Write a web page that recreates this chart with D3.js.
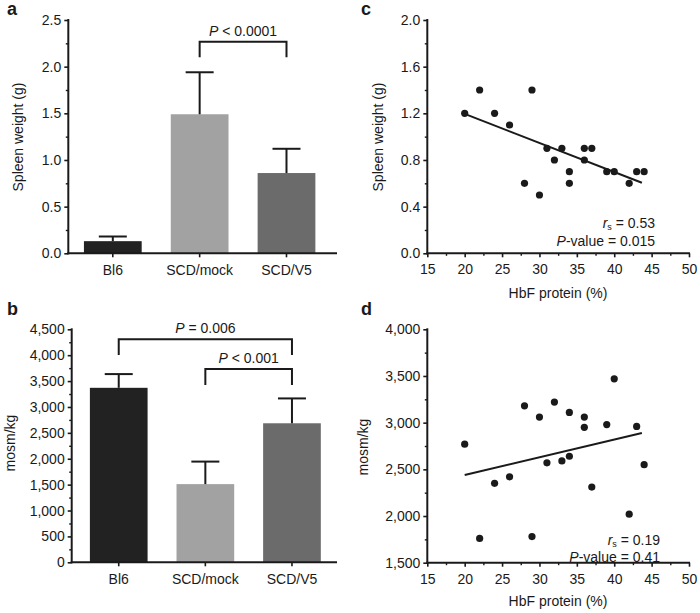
<!DOCTYPE html>
<html>
<head>
<meta charset="utf-8">
<script src="https://cdn.jsdelivr.net/npm/d3@7/dist/d3.min.js"></script>
<style>
  html, body { margin: 0; padding: 0; background: #fff; }
  svg { display: block; }
  text { font-family: "Liberation Sans", Arial, Helvetica, sans-serif; fill: #1a1a1a; }
</style>
</head>
<body>
<svg id="chart" width="700" height="613"></svg>
<script>
// ---------------- DATA ----------------
const barCategories = ["Bl6", "SCD/mock", "SCD/V5"];
const barColors = ["#222222", "#a2a2a2", "#6b6b6b"];

const spleenMeans = [0.13, 1.49, 0.86];
const spleenSD = [0.05, 0.45, 0.26];
const spleenTicks = [0, 0.5, 1.0, 1.5, 2.0, 2.5];

const osmMeans = [3370, 1510, 2685];
const osmSD = [265, 435, 480];
const osmTicks = [0, 500, 1000, 1500, 2000, 2500, 3000, 3500, 4000, 4500];

const hbfC = [20, 22, 24, 26, 28, 29, 30, 31, 32, 33, 34, 34, 36, 36, 37, 39, 40, 42, 43, 44];
const spleenC = [1.2, 1.4, 1.2, 1.1, 0.6, 1.4, 0.5, 0.9, 0.8, 0.9, 0.7, 0.6, 0.9, 0.8, 0.9, 0.7, 0.7, 0.6, 0.7, 0.7];
const fitC = [[20, 1.195], [43.7, 0.605]];

const hbfD = [20, 22, 24, 26, 28, 29, 30, 31, 32, 33, 34, 34, 36, 36, 37, 39, 40, 42, 43, 44];
const osmD = [2770, 1760, 2350, 2420, 3180, 1780, 3060, 2570, 3220, 2590, 3110, 2640, 3060, 2950, 2310, 2980, 3470, 2020, 2960, 2550];
const fitD = [[20, 2440], [43.7, 2890]];

const hbfTicks = [15, 20, 25, 30, 35, 40, 45, 50];
const spleenScatterTicks = [0.0, 0.4, 0.8, 1.2, 1.6, 2.0];
const osmScatterTicks = [1500, 2000, 2500, 3000, 3500, 4000];

// ---------------- HELPERS ----------------
const svg = d3.select("#chart");
const INK = "#1a1a1a";
const FONT = 14;

function styleAxis(g, w) {
  g.selectAll("path.domain").remove();
  g.selectAll(".tick line").attr("stroke", INK).attr("stroke-width", w || 1.6);
  g.selectAll(".tick text").attr("font-size", FONT).attr("fill", INK)
    .style("font-family", '"Liberation Sans", Arial, sans-serif');
}

function yAxis(y, x0, majors, minors, fmt) {
  const g = svg.append("g").attr("transform", `translate(${x0},0)`);
  g.call(d3.axisLeft(y).tickValues(majors).tickSize(4).tickPadding(3).tickFormat(fmt));
  styleAxis(g);
  const gm = svg.append("g").attr("transform", `translate(${x0},0)`);
  gm.call(d3.axisLeft(y).tickValues(minors).tickSize(2.5).tickFormat(""));
  styleAxis(gm, 1.4);
  svg.append("line").attr("x1", x0).attr("x2", x0)
    .attr("y1", y.range()[0] + 1).attr("y2", y.range()[1] - 1)
    .attr("stroke", INK).attr("stroke-width", 2);
}

function label(text, x, y, opts) {
  opts = opts || {};
  const t = svg.append("text").attr("x", x).attr("y", y)
    .attr("font-size", opts.size || FONT)
    .attr("text-anchor", opts.anchor || "middle")
    .attr("font-weight", opts.weight || "normal");
  if (opts.rotate) t.attr("transform", `rotate(-90,${x},${y})`);
  t.text(text);
  return t;
}

function barPanel(means, sds, ticks, minors, fmt, geom) {
  const y = d3.scaleLinear().domain([ticks[0], ticks[ticks.length - 1]]).range([geom.y0, geom.y1]);
  const x = d3.scaleBand().domain(barCategories).range([geom.x0, geom.xr])
    .paddingInner(geom.pi).paddingOuter(geom.po);
  // bars
  svg.append("g").selectAll("rect").data(barCategories).join("rect")
    .attr("x", d => x(d)).attr("width", x.bandwidth())
    .attr("y", (d, i) => y(means[i])).attr("height", (d, i) => y(ticks[0]) - y(means[i]))
    .attr("fill", (d, i) => barColors[i]);
  // error bars
  const eb = svg.append("g");
  barCategories.forEach((c, i) => {
    const cx = x(c) + x.bandwidth() / 2;
    eb.append("line").attr("x1", cx).attr("x2", cx)
      .attr("y1", y(means[i])).attr("y2", y(means[i] + sds[i]))
      .attr("stroke", INK).attr("stroke-width", 2);
    eb.append("line").attr("x1", cx - 14).attr("x2", cx + 14)
      .attr("y1", y(means[i] + sds[i])).attr("y2", y(means[i] + sds[i]))
      .attr("stroke", INK).attr("stroke-width", 2);
  });
  yAxis(y, geom.x0, ticks, minors, fmt);
  // x axis
  const gx = svg.append("g").attr("transform", `translate(0,${geom.y0})`);
  gx.call(d3.axisBottom(x).tickSize(4).tickPadding(8));
  styleAxis(gx);
  gx.selectAll(".tick text").attr("dy", "0.71em");
  svg.append("line").attr("x1", geom.x0 - 1).attr("x2", geom.xEnd)
    .attr("y1", geom.y0).attr("y2", geom.y0).attr("stroke", INK).attr("stroke-width", 2);
  return { x, y };
}

function bracket(xa, xb, yTop, yLeg) {
  svg.append("path")
    .attr("d", `M${xa},${yLeg}V${yTop}H${xb}V${yLeg}`)
    .attr("fill", "none").attr("stroke", INK).attr("stroke-width", 2);
}

function pText(x, y, rest) {
  const t = svg.append("text").attr("x", x).attr("y", y).attr("font-size", FONT).attr("text-anchor", "middle");
  t.append("tspan").attr("font-style", "italic").text("P");
  t.append("tspan").text(rest);
}

function statText(xRight, yR, yP, rs, pv) {
  const t1 = svg.append("text").attr("x", xRight).attr("y", yR).attr("font-size", FONT).attr("text-anchor", "end");
  t1.append("tspan").attr("font-style", "italic").text("r");
  t1.append("tspan").attr("font-size", 9).attr("dy", 2).text("s");
  t1.append("tspan").attr("dy", -2).text(" = " + rs);
  const t2 = svg.append("text").attr("x", xRight).attr("y", yP).attr("font-size", FONT).attr("text-anchor", "end");
  t2.append("tspan").attr("font-style", "italic").text("P");
  t2.append("tspan").text("-value = " + pv);
}

function scatterPanel(xs, ys, fit, yTicks, yMinors, fmt, geom) {
  const x = d3.scaleLinear().domain([15, 50]).range([geom.x0, geom.x1]);
  const y = d3.scaleLinear().domain([yTicks[0], yTicks[yTicks.length - 1]]).range([geom.y0, geom.y1]);
  // fit line
  svg.append("line")
    .attr("x1", x(fit[0][0])).attr("y1", y(fit[0][1]))
    .attr("x2", x(fit[1][0])).attr("y2", y(fit[1][1]))
    .attr("stroke", INK).attr("stroke-width", 2);
  // points
  svg.append("g").selectAll("circle").data(xs).join("circle")
    .attr("cx", d => x(d)).attr("cy", (d, i) => y(ys[i])).attr("r", 3.6).attr("fill", INK);
  yAxis(y, geom.x0, yTicks, yMinors, fmt);
  const gx = svg.append("g").attr("transform", `translate(0,${geom.y0})`);
  gx.call(d3.axisBottom(x).tickValues(hbfTicks).tickSize(4).tickPadding(7).tickFormat(d3.format("d")));
  styleAxis(gx);
  const gxm = svg.append("g").attr("transform", `translate(0,${geom.y0})`);
  gxm.call(d3.axisBottom(x).tickValues(hbfTicks.slice(0, -1).map(v => v + 2.5)).tickSize(2.5).tickFormat(""));
  styleAxis(gxm, 1.4);
  svg.append("line").attr("x1", geom.x0 - 1).attr("x2", geom.x1 + 1)
    .attr("y1", geom.y0).attr("y2", geom.y0).attr("stroke", INK).attr("stroke-width", 2);
  return { x, y };
}

// ---------------- PANEL a ----------------
const A = barPanel(spleenMeans, spleenSD, spleenTicks,
  [0.25, 0.75, 1.25, 1.75, 2.25], d3.format(".1f"),
  { x0: 68.3, xr: 331, xEnd: 337, y0: 253.3, y1: 20, pi: 0.335, po: 0.18 });
label("Spleen weight (g)", 23, 137, { rotate: true });
label("a", 7, 15, { anchor: "start", weight: "bold", size: 18 });
{
  const c1 = A.x("SCD/mock") + A.x.bandwidth() / 2, c2 = A.x("SCD/V5") + A.x.bandwidth() / 2;
  bracket(c1, c2, 41.7, 57.3);
  pText((c1 + c2) / 2, 36, " < 0.0001");
}

// ---------------- PANEL b ----------------
const B = barPanel(osmMeans, osmSD, osmTicks,
  [250, 750, 1250, 1750, 2250, 2750, 3250, 3750, 4250], d3.format(","),
  { x0: 71.7, xr: 339, xEnd: 337, y0: 562.3, y1: 329.3, pi: 0.334, po: 0.21 });
label("mosm/kg", 15, 443, { rotate: true });
label("b", 7, 315, { anchor: "start", weight: "bold", size: 18 });
{
  const c0 = B.x("Bl6") + B.x.bandwidth() / 2;
  const c1 = B.x("SCD/mock") + B.x.bandwidth() / 2, c2 = B.x("SCD/V5") + B.x.bandwidth() / 2;
  bracket(c0, c2, 339.3, 355);
  pText((c0 + c2) / 2, 333, " = 0.006");
  bracket(c1, c2, 369, 385);
  pText((c1 + c2) / 2, 363, " < 0.001");
}

// ---------------- PANEL c ----------------
scatterPanel(hbfC, spleenC, fitC, spleenScatterTicks, [0.2, 0.6, 1.0, 1.4, 1.8], d3.format(".1f"),
  { x0: 427.3, x1: 689, y0: 253.3, y1: 20 });
label("Spleen weight (g)", 383, 137, { rotate: true });
label("HbF protein (%)", 558, 298);
label("c", 361, 15, { anchor: "start", weight: "bold", size: 18 });
statText(655, 228, 245.5, "0.53", "0.015");

// ---------------- PANEL d ----------------
scatterPanel(hbfD, osmD, fitD, osmScatterTicks, [1750, 2250, 2750, 3250, 3750], d3.format(","),
  { x0: 427.3, x1: 689, y0: 562.7, y1: 329.3 });
label("mosm/kg", 368, 447, { rotate: true });
label("HbF protein (%)", 558, 606);
label("d", 361, 315, { anchor: "start", weight: "bold", size: 18 });
statText(660, 544.5, 562, "0.19", "0.41");
</script>
</body>
</html>
